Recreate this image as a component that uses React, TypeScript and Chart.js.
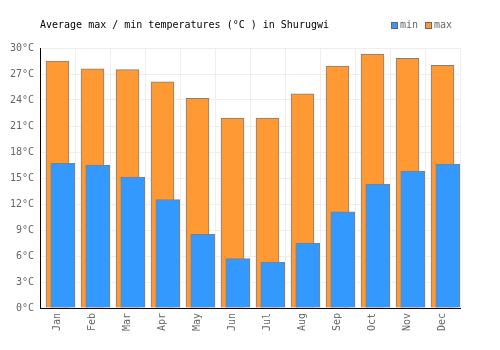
import React, { useEffect, useRef } from "react";
import { Chart, registerables } from "chart.js";

Chart.register(...registerables);

const months = ["Jan", "Feb", "Mar", "Apr", "May", "Jun", "Jul", "Aug", "Sep", "Oct", "Nov", "Dec"];
const minTemps = [16.7, 16.5, 15.1, 12.5, 8.5, 5.7, 5.3, 7.5, 11.1, 14.3, 15.8, 16.6];
const maxTemps = [28.5, 27.6, 27.5, 26.1, 24.2, 21.9, 21.9, 24.7, 27.9, 29.3, 28.8, 28.0];
const titleText = "Average max / min temperatures (°C ) in Shurugwi";
const legendLabels = ["min", "max"];

const FONT = '"DejaVu Sans Mono", monospace';
const BLUE = "#3399ff";
const ORANGE = "#ff9933";
const BORDER = "#808080";
const MIN_SHIFT = 0.15;

const headerPlugin = {
  id: "header",
  afterDraw(chart: any) {
    const ctx = chart.ctx;
    ctx.save();
    ctx.font = `10px ${FONT}`;
    ctx.textBaseline = "middle";
    ctx.textAlign = "left";
    ctx.fillStyle = "#000";
    ctx.fillText(titleText, 40, 25);
    const colors = [BLUE, ORANGE];
    let x = 391;
    legendLabels.forEach((lab, i) => {
      ctx.fillStyle = colors[i];
      ctx.fillRect(x, 22, 7, 7);
      ctx.strokeStyle = "#666";
      ctx.lineWidth = 1;
      ctx.strokeRect(x + 0.5, 22.5, 6, 6);
      ctx.fillStyle = "#666";
      ctx.fillText(lab, x + 9, 25.5);
      x += 9 + ctx.measureText(lab).width + 7;
    });
    ctx.restore();
  },
};

export default function App() {
  const ref = useRef<HTMLCanvasElement>(null);
  useEffect(() => {
    const chart = new Chart(ref.current!, {
      type: "bar",
      data: {
        labels: months,
        datasets: [
          {
            label: "min",
            xAxisID: "x2",
            data: minTemps.map((v, i) => ({ x: i + MIN_SHIFT, y: v })) as any,
            backgroundColor: BLUE,
            borderColor: BORDER,
            borderWidth: 1,
            barThickness: 24,
            grouped: false,
          },
          {
            label: "max",
            xAxisID: "x",
            data: maxTemps,
            backgroundColor: ORANGE,
            borderColor: BORDER,
            borderWidth: 1,
            barThickness: 23,
            grouped: false,
          },
        ],
      },
      options: {
        animation: false,
        responsive: false,
        maintainAspectRatio: false,
        layout: { padding: { top: 48, right: 40, left: 0, bottom: 0 } },
        plugins: { legend: { display: false }, title: { display: false }, tooltip: { enabled: false } },
        scales: {
          x: {
            type: "category",
            offset: true,
            grid: { color: "#eeeeee", offset: true, drawTicks: false },
            border: { color: "#000", width: 1 },
            ticks: {
              font: { family: FONT, size: 10 },
              color: "#666",
              minRotation: 90,
              maxRotation: 90,
              padding: 5,
            },
            afterFit(scale: any) {
              scale.height = 42;
            },
          },
          x2: {
            type: "linear",
            display: false,
            offset: false,
            grid: { offset: false },
            min: -0.5,
            max: 11.5,
          },
          y: {
            min: 0,
            max: 30,
            grid: { color: "#eeeeee", drawTicks: false },
            border: { color: "#000", width: 1 },
            ticks: {
              stepSize: 3,
              font: { family: FONT, size: 10 },
              color: "#666",
              padding: 6,
              callback: (v: any) => `${v}°C`,
            },
            afterFit(scale: any) {
              scale.width = 40;
            },
          },
        },
      },
      plugins: [headerPlugin],
    });
    return () => chart.destroy();
  }, []);
  return (
    <div style={{ position: "absolute", left: 0, top: 0, width: 500, height: 350 }}>
      <canvas ref={ref} width={500} height={350} style={{ width: 500, height: 350 }} />
    </div>
  );
}
